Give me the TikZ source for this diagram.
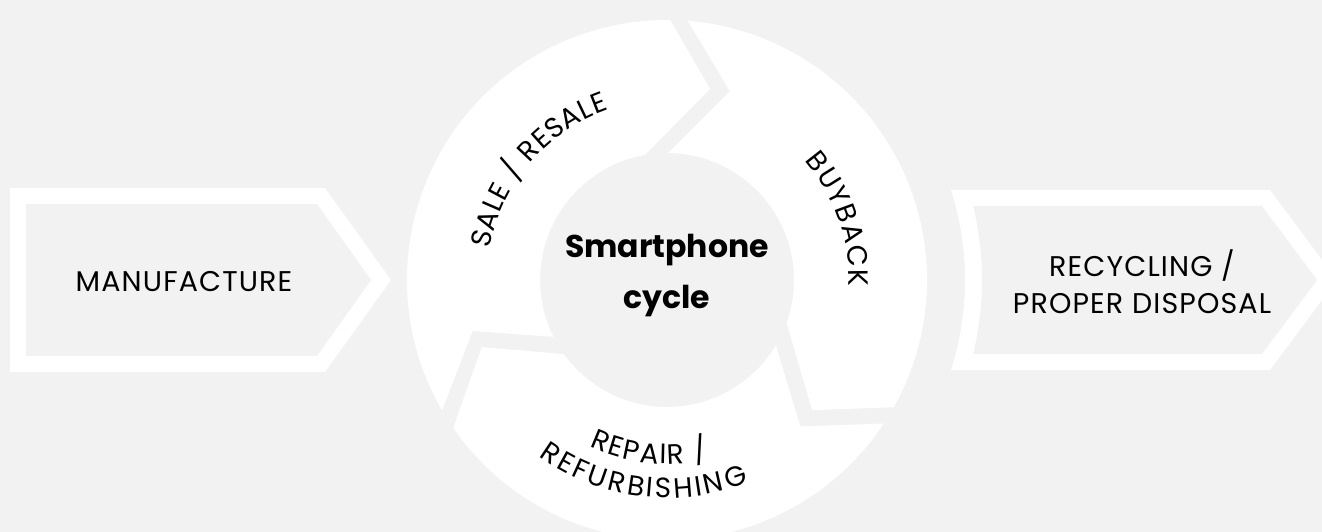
\documentclass[tikz,border=0pt]{standalone}
\usepackage{fontspec}
\setmainfont{Poppins}
\newfontfamily\capsfont{Poppins}[LetterSpace=4]
\usetikzlibrary{decorations.text}
\definecolor{bg}{HTML}{F2F2F2}
\newcommand\ringfont{\capsfont\fontsize{28}{28}\selectfont}

\begin{document}
\begin{tikzpicture}[x=1pt,y=1pt,
    label/.style={font=\capsfont\fontsize{28.5}{37}\selectfont, align=center},
    curved/.style={font=\ringfont, decorate, decoration={text effects along path, text={#1},
      text effects/.cd, text along path, fit text to path}}]
  \useasboundingbox[fill=bg] (0,0) rectangle (1322,532);
  \clip (0,0) rectangle (1322,532);
  % left arrow
  \fill[white] (10,344) -- (325,344) -- (391,252) -- (325,160) -- (10,160) -- cycle;
  \fill[bg] (26,328) -- (317,328) -- (371,252) -- (317,176) -- (26,176) -- cycle;
  \node[label] (manufacture) at (184,250) {MANUFACTURE};
  \begin{scope}[shift={(667,252)}]
    % right arrow
    \fill[white] (17.6:298) -- (603,90) -- (670,0) -- (603,-90) -- (-17.6:298)
      arc[start angle=-17.6, end angle=17.6, radius=298] -- cycle;
    \fill[bg] (13.6:315) -- (595,74) -- (650,0) -- (595,-74) -- (-13.6:315)
      arc[start angle=-13.6, end angle=13.6, radius=315] -- cycle;
    % the cycle
    \fill[white] (210.1:260) arc[start angle=210.1, end angle=89.3, radius=260]
      -- (77.3:196) -- (100:127) arc[start angle=100, end angle=206.6, radius=127]
      -- (194.7:201) -- cycle;
    \fill[white] (85.4:260) arc[start angle=85.4, end angle=-29.3, radius=260]
      -- (-41.9:195) -- (-19.7:127) arc[start angle=-19.7, end angle=89.5, radius=127]
      -- (71.6:199) -- cycle;
    \fill[white] (-33.5:260) arc[start angle=-33.5, end angle=-145.3, radius=260]
      -- (-160.1:197) -- (-144.3:127) arc[start angle=-144.3, end angle=-31, radius=127]
      -- (-47.7:198) -- cycle;
    \path[curved={SALE / RESALE}] (170:180) arc[start angle=170, end angle=109, radius=180];
    \path[curved={BUYBACK}] (41:182) arc[start angle=41, end angle=-2, radius=182];
    \path[curved={REPAIR /}] (-115:184) arc[start angle=-115, end angle=-77, radius=184];
    \path[curved={REFURBISHING}] (-126:218) arc[start angle=-126, end angle=-68, radius=218];
    \node[font=\bfseries\fontsize{31.5}{51}\selectfont, align=center] (cycle) at (0,4) {Smartphone\\cycle};
  \end{scope}
  \node[label] (recycling) at (1142,250) {RECYCLING /\\PROPER DISPOSAL};
\end{tikzpicture}
\end{document}
